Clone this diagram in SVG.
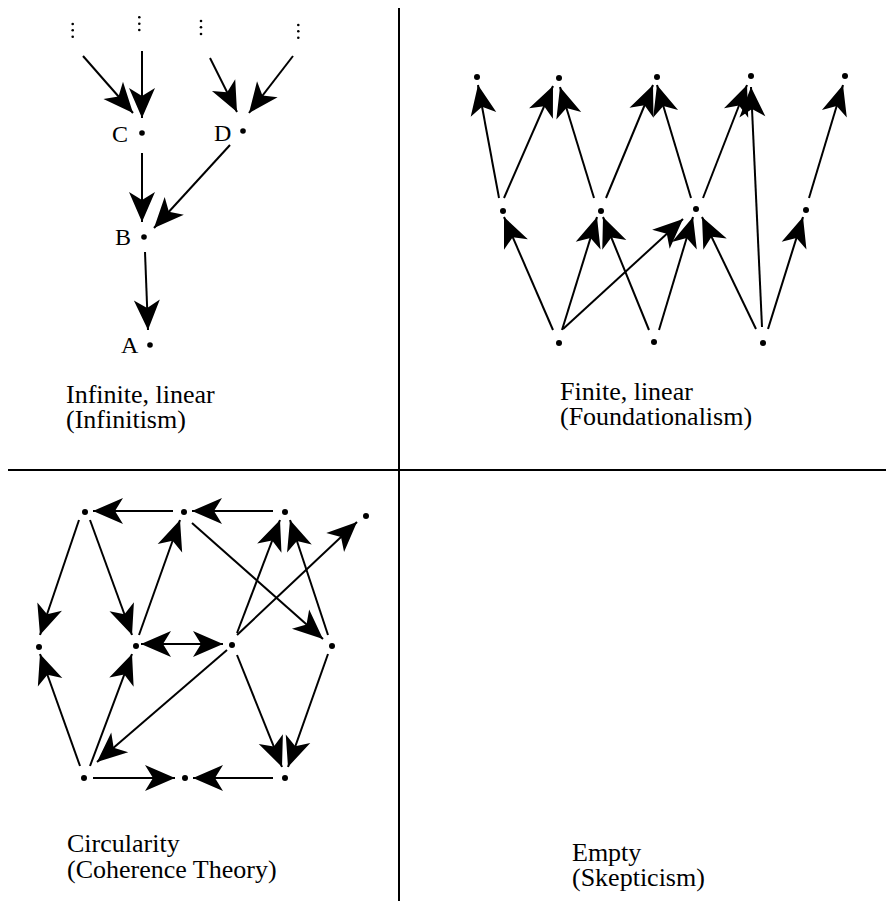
<svg xmlns="http://www.w3.org/2000/svg" width="886" height="901" viewBox="0 0 886 901">
<style>
.e{stroke:#000;stroke-width:2;fill:none;marker-end:url(#ah)}
.b{stroke:#000;stroke-width:2;fill:none;marker-end:url(#ah);marker-start:url(#ah)}
.d{fill:#000}
.t{font-family:"Liberation Serif","Times New Roman",Times,serif;font-size:26px;fill:#000}
.l{font-family:"Liberation Serif","Times New Roman",Times,serif;font-size:24px;fill:#000}
.div{stroke:#000;stroke-width:2}
</style>
<defs>
<marker id="ah" markerUnits="userSpaceOnUse" viewBox="-32 -15 34 30" refX="0" refY="0" markerWidth="34" markerHeight="30" orient="auto-start-reverse">
<path d="M0,0 L-30,-13 L-22,0 L-30,13 Z" fill="#000"/>
</marker>
</defs>
<g id="dividers">
<line class="div" x1="399" y1="8" x2="399" y2="901"/>
<line class="div" x1="8" y1="470" x2="886" y2="470"/>
</g>
<g id="connectors">
<line class="e" x1="83" y1="56" x2="133" y2="113"/>
<line class="e" x1="142" y1="51" x2="142" y2="118"/>
<line class="e" x1="210" y1="58" x2="237" y2="112"/>
<line class="e" x1="293" y1="56" x2="249" y2="113"/>
<line class="e" x1="142" y1="153" x2="142" y2="222"/>
<line class="e" x1="230" y1="145" x2="154" y2="228"/>
<line class="e" x1="145" y1="252" x2="148" y2="330"/>
<line class="e" x1="499" y1="198" x2="478" y2="85"/>
<line class="e" x1="504" y1="198" x2="553" y2="86"/>
<line class="e" x1="594" y1="198" x2="560" y2="87"/>
<line class="e" x1="606" y1="198" x2="653" y2="85"/>
<line class="e" x1="691" y1="198" x2="657" y2="85"/>
<line class="e" x1="703" y1="198" x2="747" y2="85"/>
<line class="e" x1="762" y1="327" x2="751" y2="87"/>
<line class="e" x1="809" y1="198" x2="843" y2="85"/>
<line class="e" x1="553" y1="330" x2="504" y2="217"/>
<line class="e" x1="562" y1="330" x2="597" y2="217"/>
<line class="e" x1="563" y1="329" x2="683" y2="219"/>
<line class="e" x1="649" y1="330" x2="603" y2="217"/>
<line class="e" x1="659" y1="330" x2="693" y2="217"/>
<line class="e" x1="756" y1="329" x2="702" y2="217"/>
<line class="e" x1="768" y1="329" x2="803" y2="217"/>
<line class="e" x1="173" y1="511" x2="93" y2="511"/>
<line class="e" x1="273" y1="511" x2="192" y2="511"/>
<line class="e" x1="79" y1="520" x2="40" y2="635"/>
<line class="e" x1="90" y1="520" x2="132" y2="635"/>
<line class="e" x1="139" y1="635" x2="180" y2="520"/>
<line class="b" x1="141" y1="644" x2="223" y2="644"/>
<line class="e" x1="237" y1="633" x2="280" y2="520"/>
<line class="e" x1="328" y1="635" x2="290" y2="520"/>
<line class="e" x1="192" y1="523" x2="323" y2="639"/>
<line class="e" x1="237" y1="635" x2="357" y2="522"/>
<line class="e" x1="227" y1="650" x2="97" y2="762"/>
<line class="e" x1="80" y1="766" x2="40" y2="654"/>
<line class="e" x1="90" y1="766" x2="132" y2="654"/>
<line class="e" x1="237" y1="655" x2="282" y2="767"/>
<line class="e" x1="328" y1="654" x2="288" y2="767"/>
<line class="e" x1="93" y1="778" x2="175" y2="778"/>
<line class="e" x1="273" y1="778" x2="193" y2="778"/>
</g>
<g id="infinitism">
<g id="vdots">
<circle class="d" cx="72.7" cy="24" r="1.3"/><circle class="d" cx="72.7" cy="30.3" r="1.3"/><circle class="d" cx="72.7" cy="36.7" r="1.3"/>
<circle class="d" cx="139.3" cy="17.3" r="1.3"/><circle class="d" cx="139.3" cy="23.7" r="1.3"/><circle class="d" cx="139.3" cy="30" r="1.3"/>
<circle class="d" cx="201" cy="21" r="1.3"/><circle class="d" cx="201" cy="27.3" r="1.3"/><circle class="d" cx="201" cy="34" r="1.3"/>
<circle class="d" cx="298.3" cy="25" r="1.3"/><circle class="d" cx="298.3" cy="31.3" r="1.3"/><circle class="d" cx="298.3" cy="37.7" r="1.3"/>
</g>
<g id="nC"><circle class="d" cx="142" cy="133" r="2.8"/><text class="l" x="112" y="142">C</text></g>
<g id="nD"><circle class="d" cx="243" cy="131" r="2.8"/><text class="l" x="214" y="141">D</text></g>
<g id="nB"><circle class="d" cx="144" cy="237" r="2.8"/><text class="l" x="115" y="245">B</text></g>
<g id="nA"><circle class="d" cx="150" cy="345" r="2.8"/><text class="l" x="121" y="353">A</text></g>
<text class="t" x="66" y="403">Infinite, linear<tspan x="66" dy="25">(Infinitism)</tspan></text>
</g>
<g id="foundationalism">
<g id="f-t1"><circle class="d" cx="477" cy="77" r="3"/></g>
<g id="f-t2"><circle class="d" cx="559" cy="78" r="3"/></g>
<g id="f-t3"><circle class="d" cx="657" cy="77" r="3"/></g>
<g id="f-t4"><circle class="d" cx="751" cy="76" r="3"/></g>
<g id="f-t5"><circle class="d" cx="845" cy="76" r="3"/></g>
<g id="f-m1"><circle class="d" cx="503" cy="211" r="3"/></g>
<g id="f-m2"><circle class="d" cx="601" cy="211" r="3"/></g>
<g id="f-m3"><circle class="d" cx="696" cy="209" r="3"/></g>
<g id="f-m4"><circle class="d" cx="806" cy="210" r="3"/></g>
<g id="f-b1"><circle class="d" cx="559" cy="343" r="3"/></g>
<g id="f-b2"><circle class="d" cx="654" cy="342" r="3"/></g>
<g id="f-b3"><circle class="d" cx="763" cy="343" r="3"/></g>
<text class="t" x="560" y="400">Finite, linear<tspan x="560" dy="25">(Foundationalism)</tspan></text>
</g>
<g id="coherence">
<g id="c-p1"><circle class="d" cx="85" cy="512" r="3"/></g>
<g id="c-p2"><circle class="d" cx="184" cy="512" r="3"/></g>
<g id="c-p3"><circle class="d" cx="285" cy="512" r="3"/></g>
<g id="c-p4"><circle class="d" cx="366" cy="516" r="3"/></g>
<g id="c-q1"><circle class="d" cx="39" cy="647" r="3"/></g>
<g id="c-q2"><circle class="d" cx="136" cy="646" r="3"/></g>
<g id="c-q3"><circle class="d" cx="232" cy="645" r="3"/></g>
<g id="c-q4"><circle class="d" cx="332" cy="646" r="3"/></g>
<g id="c-r1"><circle class="d" cx="84" cy="778" r="3"/></g>
<g id="c-r2"><circle class="d" cx="185" cy="778" r="3"/></g>
<g id="c-r3"><circle class="d" cx="285" cy="778" r="3"/></g>
<text class="t" x="67" y="852">Circularity<tspan x="67" dy="26">(Coherence Theory)</tspan></text>
</g>
<g id="skepticism">
<text class="t" x="572" y="861">Empty<tspan x="572" dy="25">(Skepticism)</tspan></text>
</g>
</svg>
